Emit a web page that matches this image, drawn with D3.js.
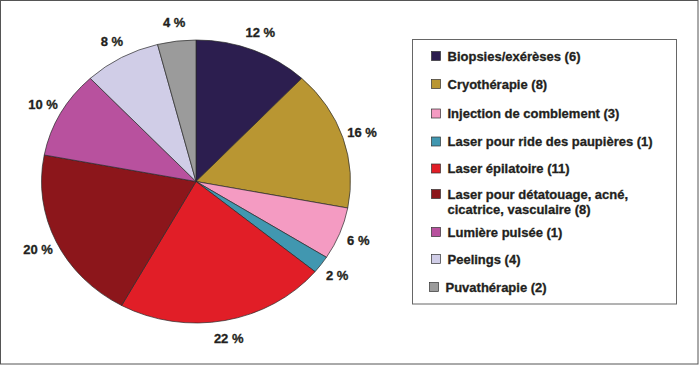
<!DOCTYPE html>
<html><head><meta charset="utf-8">
<script src="https://cdn.jsdelivr.net/npm/d3@7"></script>
<style>
body{margin:0;background:#fff;}
svg{display:block;font-family:"Liberation Sans",Arial,Helvetica,sans-serif;font-weight:bold;}
text{stroke:#231f20;stroke-width:0.3px;fill:#231f20;}
</style></head>
<body>
<svg id="chart" width="700" height="365"></svg>
<script>
const categories = ["Biopsies/exérèses (6)","Cryothérapie (8)","Injection de comblement (3)","Laser pour ride des paupières (1)","Laser épilatoire (11)","Laser pour détatouage, acné,|cicatrice, vasculaire (8)","Lumière pulsée (1)","Peelings (4)","Puvathérapie (2)"];
const percents = [12,16,6,2,22,20,10,8,4];
const colors = ["#2c1e4f","#b99632","#f49bc2","#4197b0","#e11e27","#8c161b","#b8519e","#d0cde7","#9b9b9b"];

const svg = d3.select("#chart");
svg.append("rect").attr("x",0.5).attr("y",0.5).attr("width",697.5).attr("height",363.5)
  .attr("fill","#fff").attr("stroke","#555").attr("stroke-width",1);

const cx = 196, cy = 181.5, rx = 154.5, ry = 141.5, R = 100;
const pie = d3.pie().sort(null).value(d=>d)(percents);
const arc = d3.arc().innerRadius(0).outerRadius(R);
const g = svg.append("g").attr("transform",`translate(${cx},${cy}) scale(${rx/R},${ry/R})`);
g.selectAll("path").data(pie).join("path")
  .attr("d",arc).attr("fill",(d,i)=>colors[i])
  .attr("stroke","#2a2a2a").attr("stroke-width",0.7).attr("vector-effect","non-scaling-stroke");

const lab = svg.append("g");
pie.forEach((d,i)=>{
  const a = (d.startAngle+d.endAngle)/2;
  const x = cx + (rx*1.13)*Math.sin(a);
  const y = cy - (ry*1.13)*Math.cos(a);
  lab.append("text").attr("x",x).attr("y",y).attr("dy","0.35em")
    .attr("text-anchor","middle").attr("font-size",13)
    .text(percents[i]+" %");
});

// legend
svg.append("rect").attr("x",412.5).attr("y",39.5).attr("width",264).attr("height",264.5)
  .attr("fill","#fff").attr("stroke","#666").attr("stroke-width",1);
const legY = d3.scaleOrdinal().domain(categories).range([56,84,113.5,141.5,168.5,194,232,259,287]);
const lg = svg.append("g");
categories.forEach((c,i)=>{
  const y = legY(c);
  const sx = i===8 ? 429 : 431;
  lg.append("rect").attr("x",sx+0.5).attr("y",y-4.5).attr("width",9).attr("height",9)
    .attr("fill",colors[i]).attr("stroke","#333").attr("stroke-width",0.7);
  const lines = c.split("|");
  const tx = i===8 ? 445.5 : 447.5;
  const t = lg.append("text").attr("x",tx).attr("y",y).attr("font-size",13);
  lines.forEach((l,k)=>{
    t.append("tspan").attr("x",tx).attr("dy", k===0 ? "0.35em" : "15.5").text(l);
  });
});
</script>
</body></html>
